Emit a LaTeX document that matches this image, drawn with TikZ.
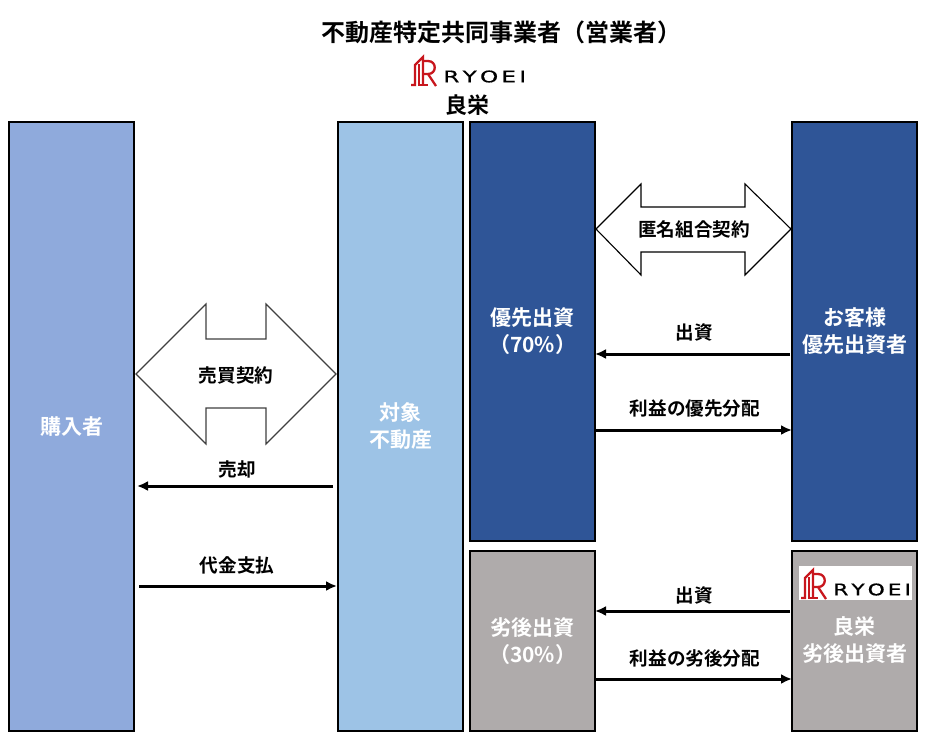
\documentclass[tikz,border=0pt]{standalone}
\usepackage{fontspec}
\setmainfont{Noto Sans CJK JP}[BoldFont={Noto Sans CJK JP Bold}]
\newfontfamily\logofont[FakeBold=0.5]{DejaVu Sans}
\definecolor{buyercol}{HTML}{8FAADC}
\definecolor{propcol}{HTML}{9DC3E6}
\definecolor{seniorcol}{HTML}{2F5597}
\definecolor{juniorcol}{HTML}{AFABAB}
\definecolor{logored}{HTML}{C8161D}
\usetikzlibrary{arrows.meta}
\tikzset{
  x=1pt,y=-1pt,
  colbox/.style={draw=black,line width=1.8pt,outer sep=0pt,minimum width=125pt,inner sep=0pt,anchor=north west,text=white,font=\fontsize{21}{27}\selectfont\bfseries,align=center},
  lbl/.style={font=\fontsize{18.6}{22}\selectfont\bfseries,inner sep=0pt,text=black},
  flow/.style={-{Latex[length=11pt,width=10pt]},line width=3pt,black},
  blockarrow/.style={draw=#1,fill=white,line width=1.1pt,line join=miter},
  logomark/.style={draw=logored,line width=2.3pt,line join=miter},
}
% #1 = name, #2 = left x, #3 = top y of logo mark, #4 = horizontal stretch of the lettering
\newcommand{\ryoeilogo}[4]{%
  \begin{scope}[shift={(#2,#3)}]
    \draw[logomark] (0,29) -- (4,29) -- (4,9) -- (12,1) -- (12,29);
    \draw[logomark] (12,5) -- (17,5) .. controls (26,5) and (26,18) .. (17,18) -- (13,18);
    \draw[logomark] (17,18) -- (25,30);
    \draw[logomark] (8,8) -- (8,29) -- (17,29);
    \node[anchor=west,inner sep=0pt,text=black,xscale=#4] (#1) at (32,20.5)
      {\logofont\fontsize{16}{16}\selectfont R\hspace{2.2pt}Y\hspace{2.2pt}O\hspace{2.2pt}E\hspace{2.2pt}I};
  \end{scope}}
\begin{document}
\begin{tikzpicture}
\useasboundingbox (0,0) rectangle (937,742);
\fill[white] (0,0) rectangle (937,742);

\node[lbl,font=\fontsize{24}{28}\selectfont\bfseries] (title) at (501.5,32) {不動産特定共同事業者（営業者）};
\ryoeilogo{toplogo}{411}{56}{1.45}
\node[lbl,font=\fontsize{22}{24}\selectfont\bfseries] (ryoeitop) at (467,105) {良栄};

\node[colbox,fill=buyercol,minimum height=609pt] (buyer) at (9,122) {購入者};
\node[colbox,fill=propcol,minimum height=609pt] (prop) at (338,122) {対象\\不動産};
\node[colbox,fill=seniorcol,minimum height=419pt] (senior) at (470,122) {優先出資\\（70\%）};
\node[colbox,fill=seniorcol,minimum height=419pt] (cust) at (792,122) {お客様\\優先出資者};
\node[colbox,fill=juniorcol,minimum height=180pt] (junior) at (470,551) {劣後出資\\（30\%）};
\node[colbox,fill=juniorcol,minimum height=180pt] (jinvest) at (792,551) {};
\node[lbl,text=white,font=\fontsize{21}{27}\selectfont\bfseries,align=center] (jtext) at (854.5,640) {良栄\\劣後出資者};
\fill[white] (799,566) rectangle (912,600);
\ryoeilogo{boxlogo}{801}{569}{1.36}

% double block arrows
\draw[blockarrow=black!75] (136,374) -- (206,304) -- (206,339) -- (266,339) -- (266,304) -- (336,374)
  -- (266,444) -- (266,408) -- (206,408) -- (206,444) -- cycle;
\node[lbl] (sale) at (236,375) {売買契約};
\draw[blockarrow=black] (596,229) -- (641,184) -- (641,207) -- (745,207) -- (745,184) -- (791,229)
  -- (745,275) -- (745,252) -- (641,252) -- (641,275) -- cycle;
\node[lbl] (tok) at (694,229) {匿名組合契約};

% flows
\draw[flow,shorten >=3pt,shorten <=5pt] (prop.west |- 0,486) -- (buyer.east |- 0,486);
\node[lbl] (l1) at (237,469) {売却};
\draw[flow,shorten <=5pt,shorten >=1pt] (buyer.east |- 0,586) -- (prop.west |- 0,586);
\node[lbl] (l2) at (237,565) {代金支払};
\draw[flow,shorten <=2pt,shorten >=0pt] (cust.west |- 0,354) -- (senior.east |- 0,354);
\node[lbl] (l3) at (694,332) {出資};
\draw[flow,shorten <=0pt,shorten >=0pt] (senior.east |- 0,430) -- (cust.west |- 0,430);
\node[lbl] (l4) at (695,408) {利益の優先分配};
\draw[flow,shorten <=2pt,shorten >=0pt] (jinvest.west |- 0,611) -- (junior.east |- 0,611);
\node[lbl] (l5) at (694,595) {出資};
\draw[flow,shorten <=0pt,shorten >=0pt] (junior.east |- 0,679) -- (jinvest.west |- 0,679);
\node[lbl] (l6) at (695,658) {利益の劣後分配};
\end{tikzpicture}
\end{document}
